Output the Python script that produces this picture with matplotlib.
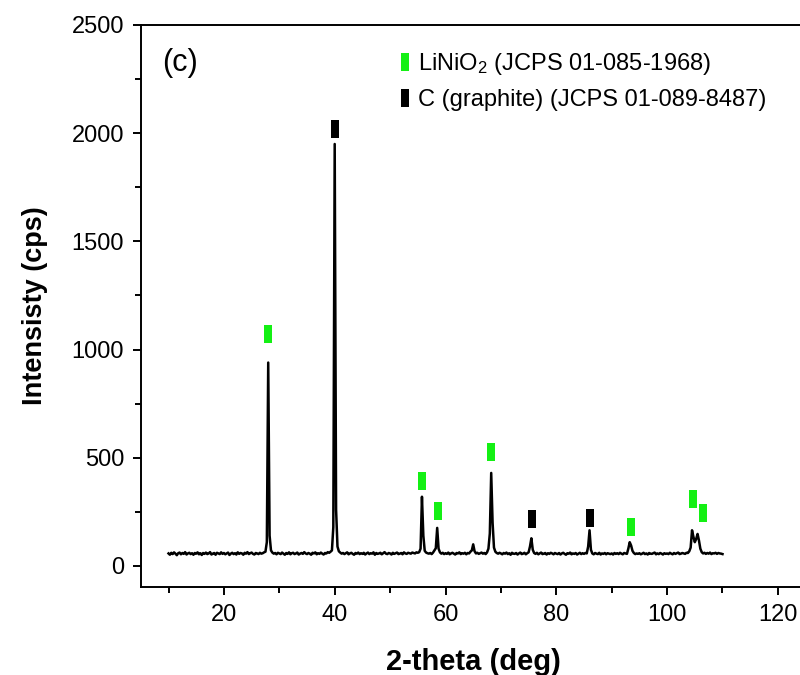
# XRD pattern (c): LiNiO2 + graphite, with phase markers above the peaks

import numpy as np
import matplotlib.pyplot as plt
from matplotlib.lines import Line2D
from matplotlib.ticker import MultipleLocator

plt.rcParams['font.family'] = ['Liberation Sans', 'DejaVu Sans']
plt.rcParams['mathtext.fontset'] = 'custom'
plt.rcParams['mathtext.rm'] = 'Liberation Sans'
plt.rcParams['mathtext.default'] = 'regular'

# ====== Data ======
two_theta = np.arange(10.0, 110.001, 0.25)   # 10 .. 110 deg, 0.25 step

intensity = [
    58, 52, 61, 55, 63, 57, 50, 59, 62, 54, 60, 56, 64, 53, 58, 61, 55, 59, 52, 60,        # 10
    57, 63, 54, 59, 51, 60, 56, 62, 55, 58, 64, 53, 57, 60, 52, 61, 58, 55, 63, 56,        # 15
    60, 54, 58, 62, 51, 57, 61, 55, 59, 53, 63, 56, 60, 58, 52, 61, 57, 64, 55, 59,        # 20
    62, 56, 53, 60, 58, 55, 61, 57, 59, 63, 66, 110, 940, 140, 72, 62, 57, 60, 54, 61,    # 25
    58, 55, 62, 57, 52, 60, 56, 63, 54, 59, 61, 55, 58, 62, 53, 57, 60, 56, 64, 58,        # 30
    55, 60, 57, 52, 61, 58, 63, 54, 59, 56, 62, 57, 53, 60, 58, 64, 61, 66, 72, 180,       # 35
    1950, 260, 90, 68, 62, 57, 60, 55, 59, 63, 54, 58, 61, 56, 52, 60, 57, 62, 55, 59,     # 40
    56, 61, 53, 58, 62, 55, 59, 57, 63, 52, 60, 56, 58, 61, 54, 59, 64, 57, 55, 60,        # 45
    58, 53, 61, 56, 59, 62, 55, 57, 60, 54, 63, 58, 56, 61, 59, 57, 62, 60, 58, 63,        # 50
    61, 64, 80, 320, 140, 70, 62, 59, 57, 60, 55, 62, 72, 82, 176, 80, 63, 57, 61, 55,     # 55
    59, 56, 62, 54, 58, 61, 57, 53, 60, 58, 63, 55, 59, 57, 61, 54, 60, 58, 66, 72,        # 60
    100, 68, 58, 61, 56, 59, 62, 57, 60, 55, 63, 80, 150, 430, 200, 85, 66, 60, 57, 61,    # 65
    58, 54, 60, 57, 62, 55, 59, 52, 61, 57, 56, 60, 53, 58, 62, 55, 57, 61, 54, 59,        # 70
    63, 90, 128, 75, 60, 56, 61, 54, 58, 62, 55, 57, 60, 53, 59, 56, 61, 58, 54, 60,       # 75
    57, 55, 60, 53, 58, 61, 56, 52, 59, 57, 62, 54, 58, 56, 60, 53, 57, 61, 55, 59,        # 80
    56, 60, 58, 90, 165, 75, 58, 54, 60, 57, 55, 61, 53, 58, 56, 60, 54, 59, 57, 55,       # 85
    58, 53, 60, 56, 59, 55, 61, 57, 54, 60, 58, 56, 80, 110, 95, 70, 60, 55, 58, 56,       # 90
    59, 54, 57, 61, 55, 58, 53, 60, 57, 56, 59, 62, 54, 58, 55, 60, 57, 53, 59, 56,        # 95
    58, 55, 61, 57, 54, 60, 56, 59, 62, 55, 57, 60, 58, 56, 61, 60, 68, 85, 165, 135,      # 100
    110, 125, 148, 118, 80, 64, 58, 61, 56, 60, 57, 62, 55, 59, 58, 61, 56, 60, 58, 57,    # 105
    55,                                                                                     # 110
]

# phase markers (position, marker height in cps)
linio2_pos = [28.0, 55.7, 58.6, 68.3, 93.5, 104.6, 106.5]
linio2_y = [1072, 394, 255, 528, 178, 308, 243]
graphite_pos = [40.0, 75.6, 86.0]
graphite_y = [2019, 218, 222]

linio2_label = "LiNiO$_2$ (JCPS 01-085-1968)"
graphite_label = "C (graphite) (JCPS 01-089-8487)"

# tall thin rectangle marker
bar = [(-0.2, -0.5), (0.2, -0.5), (0.2, 0.5), (-0.2, 0.5), (-0.2, -0.5)]
green = "#14f014"

# ====== Figure ======
# axes run slightly past the right edge of the picture (original was cropped)
fig = plt.figure(figsize=(8, 6.75), dpi=100)
ax = fig.add_axes([0.176, 0.1304, 0.831, 0.8326])

ax.plot(two_theta, intensity, color="black", linewidth=1.8)
ax.plot(linio2_pos, linio2_y, linestyle="none", marker=bar, markersize=13,
        color=green, markeredgewidth=0)
ax.plot(graphite_pos, graphite_y, linestyle="none", marker=bar, markersize=13,
        color="black", markeredgewidth=0)

ax.set_xlim(5, 125)
ax.set_ylim(-97, 2500)
ax.xaxis.set_major_locator(MultipleLocator(20))
ax.xaxis.set_minor_locator(MultipleLocator(10))
ax.yaxis.set_major_locator(MultipleLocator(500))
ax.yaxis.set_minor_locator(MultipleLocator(250))
ax.tick_params(which="both", direction="out", width=1.4, labelsize=17, pad=6)
ax.tick_params(which="major", length=6)
ax.tick_params(which="minor", length=4)
for s in ax.spines.values():
    s.set_linewidth(1.4)
ax.spines["right"].set_visible(False)

ax.set_xlabel("2-theta (deg)", fontsize=21, fontweight="bold", labelpad=16)
ax.set_ylabel("Intensisty (cps)", fontsize=19.5, fontweight="bold", labelpad=17)

ax.text(0.032, 0.932, "(c)", transform=ax.transAxes, fontsize=22, va="center")

handles = [
    Line2D([], [], linestyle="none", marker=bar, markersize=13, color=green, markeredgewidth=0),
    Line2D([], [], linestyle="none", marker=bar, markersize=13, color="black", markeredgewidth=0),
]
ax.legend(handles, [linio2_label, graphite_label], loc="upper left",
          bbox_to_anchor=(0.362, 0.983), frameon=False, fontsize=17,
          handlelength=0.6, handletextpad=0.25, labelspacing=0.5, borderpad=0.2)

fig.savefig("out.png", dpi=100)
